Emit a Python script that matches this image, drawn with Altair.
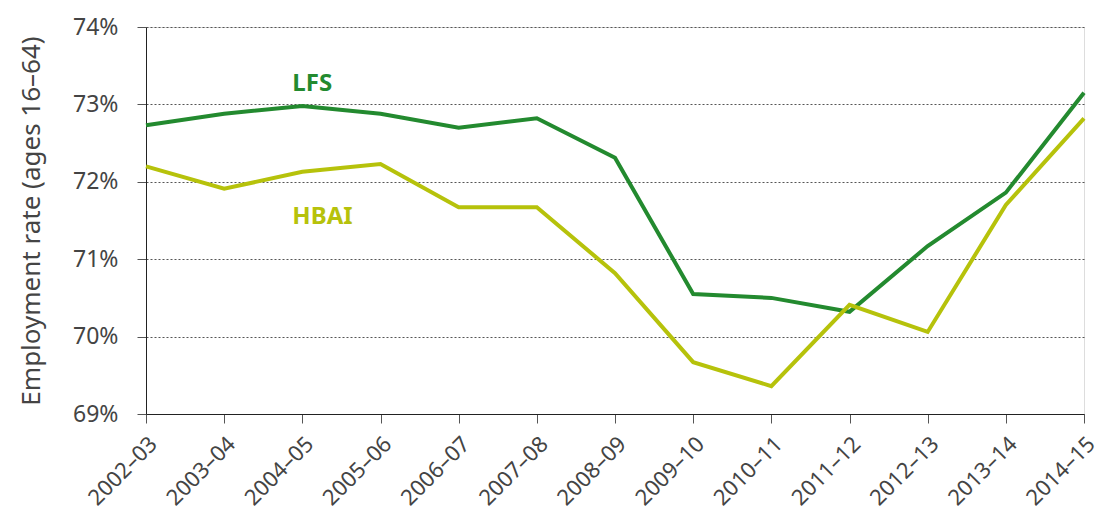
import altair as alt
import pandas as pd

years = ["2002–03", "2003–04", "2004–05", "2005–06", "2006–07", "2007–08", "2008–09",
         "2009–10", "2010–11", "2011–12", "2012–13", "2013–14", "2014–15"]
lfs = [72.73, 72.88, 72.98, 72.88, 72.70, 72.82, 72.31, 70.55, 70.50, 70.32, 71.17, 71.86, 73.15]
hbai = [72.20, 71.91, 72.13, 72.23, 71.67, 71.67, 70.82, 69.67, 69.36, 70.41, 70.06, 71.70, 72.82]
series = ["LFS", "HBAI"]
colors = ["#238a2f", "#b6c20b"]
label_year = ["2004–05", "2004–05"]
label_value = [73.26, 71.54]

rows = []
for y, v in zip(years, lfs):
    rows.append({"year": y, "value": v / 100, "series": "LFS"})
for y, v in zip(years, hbai):
    rows.append({"year": y, "value": v / 100, "series": "HBAI"})
df = pd.DataFrame(rows)
lab = pd.DataFrame({"year": label_year, "value": [v / 100 for v in label_value], "series": series})

font = "Noto Sans"
xenc = alt.X("year:N", sort=years, scale=alt.Scale(padding=0),
             axis=alt.Axis(title=None, labelAngle=-45, labelFontSize=22, labelColor="#444",
                           labelFont=font, domainColor="#222", tickColor="#555", tickSize=9,
                           labelPadding=10, grid=False))
yscale = alt.Scale(domain=[0.69, 0.74], nice=False, zero=False)
color = alt.Color("series:N", scale=alt.Scale(domain=series, range=colors), legend=None)

lines = alt.Chart(df).mark_line(strokeWidth=4).encode(
    x=xenc,
    y=alt.Y("value:Q", scale=yscale,
            axis=alt.Axis(title="Employment rate (ages 16–64)", format=".0%", values=[0.69, 0.70, 0.71, 0.72, 0.73, 0.74],
                          titleFontSize=26, titleFont=font, titleFontWeight="normal", titleColor="#444",
                          titlePadding=28,
                          labelFontSize=23, labelFont=font, labelColor="#444", labelPadding=19,
                          domainColor="#222", tickColor="#555", tickSize=9,
                          grid=True, gridColor="#555", gridDash=[2, 2], gridWidth=1)),
    color=color,
)

texts = alt.Chart(lab).mark_text(fontSize=24, fontWeight="bold", font=font, align="left", dx=-10).encode(
    x=alt.X("year:N", sort=years),
    y=alt.Y("value:Q", scale=yscale),
    text="series:N",
    color=color,
)

chart = (lines + texts).properties(
    width=938, height=387,
    autosize=alt.AutoSizeParams(type="none"),
    padding={"left": 138, "top": 19, "right": 15, "bottom": 103},
).configure_view(stroke=None).configure(background="white")
chart.save("out.html", embed_options={"renderer": "svg", "actions": False})
